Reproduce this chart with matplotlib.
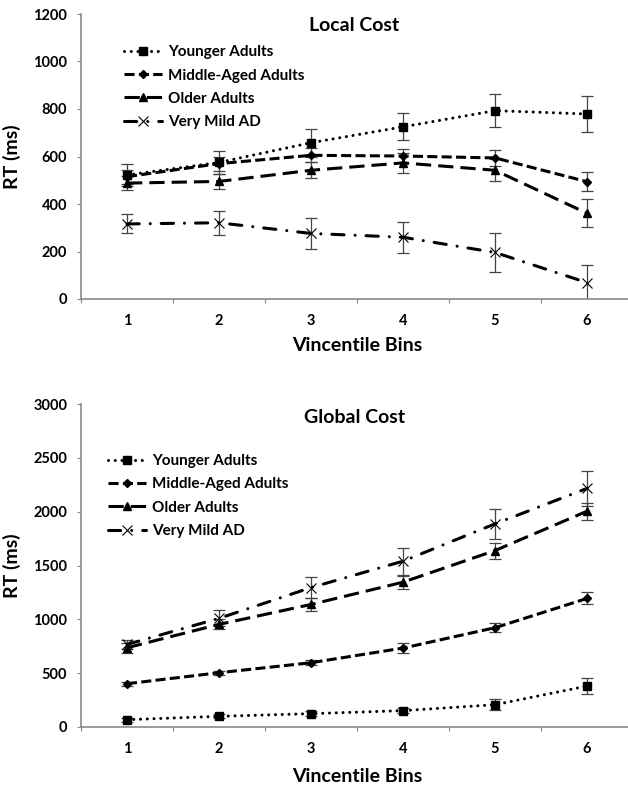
import matplotlib
matplotlib.use('Agg')
import matplotlib.pyplot as plt
import numpy as np

plt.rcParams['font.family'] = ['Lato', 'DejaVu Sans']
plt.rcParams['font.weight'] = 'bold'

bins = [1, 2, 3, 4, 5, 6]
groups = ['Younger Adults', 'Middle-Aged Adults', 'Older Adults', 'Very Mild AD']

# Local cost (ms)
local_mean = {
    'Younger Adults':     [522, 575, 658, 725, 793, 779],
    'Middle-Aged Adults': [515, 570, 605, 602, 594, 494],
    'Older Adults':       [488, 495, 542, 573, 542, 361],
    'Very Mild AD':       [316, 321, 276, 260, 196, 69],
}
local_err = {
    'Younger Adults':     [48, 50, 58, 57, 70, 75],
    'Middle-Aged Adults': [30, 30, 30, 30, 33, 40],
    'Older Adults':       [30, 32, 34, 41, 47, 58],
    'Very Mild AD':       [40, 51, 66, 66, 83, 74],
}

# Global cost (ms)
global_mean = {
    'Younger Adults':     [68, 99, 124, 152, 207, 380],
    'Middle-Aged Adults': [402, 504, 597, 733, 922, 1194],
    'Older Adults':       [736, 953, 1138, 1345, 1639, 2004],
    'Very Mild AD':       [767, 1009, 1295, 1540, 1887, 2216],
}
global_err = {
    'Younger Adults':     [20, 20, 25, 25, 50, 72],
    'Middle-Aged Adults': [20, 20, 25, 43, 40, 56],
    'Older Adults':       [46, 47, 60, 59, 74, 77],
    'Very Mild AD':       [45, 75, 96, 124, 142, 160],
}

styles = {
    'Younger Adults':     dict(ls=(0, (0.01, 2.2)), marker='s', ms=6, dash_capstyle='round'),
    'Middle-Aged Adults': dict(ls=(0, (3.3, 1.4)), marker='D', ms=4.5),
    'Older Adults':       dict(ls=(0, (5.0, 2.3)), marker='^', ms=6),
    'Very Mild AD':       dict(ls=(0, (4.0, 3.6, 0.01, 3.6)), marker='x', ms=7, mew=0.8,
                               dash_capstyle='round'),
}

GREY = '#8a8a8a'


def draw(ax, means, errs, ymax, ystep, title, leg_x, leg_y):
    x = np.array(bins) - 0.5
    for g in groups:
        st = dict(styles[g])
        mew = st.pop('mew', 1.0)
        ax.errorbar(x, means[g], yerr=errs[g], fmt='none', ecolor='#444444',
                    elinewidth=0.9, capsize=4.5, capthick=0.9, zorder=2)
        ax.plot(x, means[g], color='black', lw=2.2, mfc='black', mec='black',
                mew=mew, label=g, zorder=3, **st)
    ax.set_xlim(0, 6)
    ax.set_ylim(0, ymax)
    ax.set_xticks(range(7))
    ax.set_xticklabels([])
    ax.set_xticks(x, minor=True)
    ax.set_xticklabels([str(b) for b in bins], minor=True, fontsize=10.5)
    ax.tick_params(axis='x', which='major', length=3, color=GREY, direction='out')
    ax.tick_params(axis='x', which='minor', length=0, pad=11)
    ax.set_yticks(np.arange(0, ymax + 1, ystep))
    ax.tick_params(axis='y', length=3, color=GREY, labelsize=10.5, pad=7)
    for lab in ax.get_yticklabels() + ax.get_xticklabels(minor=True):
        lab.set_fontweight('bold')
    for s in ['top', 'right']:
        ax.spines[s].set_visible(False)
    for s in ['left', 'bottom']:
        ax.spines[s].set_color(GREY)
        ax.spines[s].set_linewidth(1.2)
    ax.set_ylabel('RT (ms)', fontsize=14, fontweight='bold')
    ax.yaxis.set_label_coords(-0.109, 0.5)
    ax.set_xlabel('Vincentile Bins', fontsize=14, fontweight='bold')
    ax.text(0.495, 0.958, title, transform=ax.transAxes, ha='center', va='center',
            fontsize=14, fontweight='bold')
    ax.legend(loc='upper left', bbox_to_anchor=(leg_x, leg_y), frameon=False,
              fontsize=11, handlelength=2.5, handletextpad=0.38, labelspacing=0.61,
              borderaxespad=0)


fig = plt.figure(figsize=(6.28, 7.86), dpi=100)
# axes run past the right edge of the figure, as in the reference crop
ax1 = fig.add_axes([81 / 628, (786 - 299) / 786, 552 / 628, 285 / 786])
ax2 = fig.add_axes([81 / 628, (786 - 727) / 786, 552 / 628, 323 / 786])

draw(ax1, local_mean, local_err, 1200, 200, 'Local Cost', 0.067, 0.912)
draw(ax2, global_mean, global_err, 3000, 500, 'Global Cost', 0.038, 0.864)
ax1.xaxis.set_label_coords(0.5, -0.135)
ax2.xaxis.set_label_coords(0.5, -0.127)

fig.savefig('out.png', dpi=100)
